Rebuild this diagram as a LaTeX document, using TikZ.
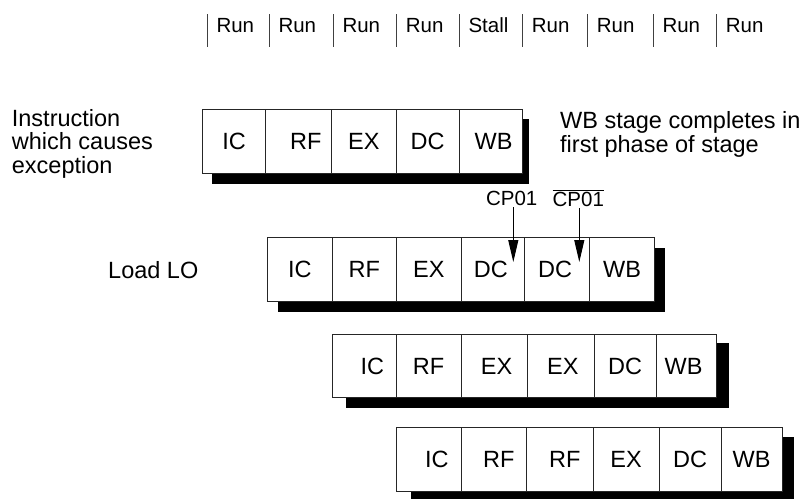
\documentclass[tikz,border=0pt]{standalone}
\usepackage{fontspec}
\setmainfont{Liberation Sans}
\usetikzlibrary{arrows.meta}
\tikzset{
  cell/.style={draw=black!85, fill=white, line width=0.8pt, inner sep=0pt, font=\fontsize{23.5}{26}\selectfont},
  shadowbox/.style={fill=black},
  bar/.style={draw=black!75, line width=1pt},
  toplab/.style={anchor=base west, inner sep=0pt, font=\fontsize{20.5}{24}\selectfont},
  txt/.style={inner sep=0pt, align=left, font=\fontsize{23.5}{23.5}\selectfont},
  cplab/.style={inner sep=2pt, font=\fontsize{20.5}{22}\selectfont},
  sig/.style={draw=black, line width=1pt, -{Triangle[length=22pt,width=10pt]}}
}
\begin{document}
\begin{tikzpicture}[x=1pt,y=-1pt]
\useasboundingbox (0,0) rectangle (810,498);
\clip (0,0) rectangle (810,498);
\fill[white] (0,0) rectangle (810,498);

% top run/stall labels
\foreach \x/\t [count=\i] in {207.3/Run,269.3/Run,333.3/Run,396.7/Run,459.3/Stall,522.7/Run,587.7/Run,653.3/Run,716.7/Run}{
  \draw[bar] (\x,14) -- (\x,47);
  \node[toplab] (top\i) at (\x+9,32) {\t};
}

% left texts
\node[txt, anchor=north west] (instr) at (11.7,109) {Instruction\\which causes\\exception};
\node[txt, anchor=north west] (wbnote) at (560,111.5) {WB stage completes in\\first phase of stage};
\node[txt, anchor=base west] (load) at (108,278) {Load LO};

% row 1
\fill[shadowbox] (212.3,119) rectangle (529.3,184.3);
\node[cell, minimum width=63.2pt, minimum height=64.3pt] (r1c1) at (234.1,141.15) {IC};
\node[cell, minimum width=66pt, minimum height=64.3pt] (r1c2) at (298.7,141.15) {\hspace*{14pt}RF};
\node[cell, minimum width=64.3pt, minimum height=64.3pt] (r1c3) at (363.85,141.15) {EX};
\node[cell, minimum width=63.3pt, minimum height=64.3pt] (r1c4) at (427.65,141.15) {DC};
\node[cell, minimum width=63.4pt, minimum height=64.3pt] (r1c5) at (491,141.15) {\hspace*{5pt}WB};

% row 2
\fill[shadowbox] (278.3,247.5) rectangle (665,312.3);
\node[cell, minimum width=65pt, minimum height=64.4pt] (r2c1) at (299.8,269.5) {IC};
\node[cell, minimum width=64pt, minimum height=64.4pt] (r2c2) at (364.3,269.5) {RF};
\node[cell, minimum width=65pt, minimum height=64.4pt] (r2c3) at (428.8,269.5) {EX};
\node[cell, minimum width=63pt, minimum height=64.4pt] (r2c4) at (492.8,269.5) {DC\hspace*{4pt}};
\node[cell, minimum width=65.4pt, minimum height=64.4pt] (r2c5) at (557,269.5) {DC\hspace*{4pt}};
\node[cell, minimum width=64.6pt, minimum height=64.4pt] (r2c6) at (622,269.5) {WB};

% row 3
\fill[shadowbox] (346,343.3) rectangle (729.3,408.3);
\node[cell, minimum width=63.3pt, minimum height=63.4pt] (r3c1) at (364.35,366) {\hspace*{16pt}IC};
\node[cell, minimum width=65.3pt, minimum height=63.4pt] (r3c2) at (428.65,366) {RF};
\node[cell, minimum width=66.4pt, minimum height=63.4pt] (r3c3) at (494.5,366) {\hspace*{4pt}EX};
\node[cell, minimum width=66.3pt, minimum height=63.4pt] (r3c4) at (560.85,366) {\hspace*{4pt}EX};
\node[cell, minimum width=62.3pt, minimum height=63.4pt] (r3c5) at (625.15,366) {DC};
\node[cell, minimum width=60.4pt, minimum height=63.4pt] (r3c6) at (686.5,366) {WB\hspace*{6pt}};

% row 4
\fill[shadowbox] (410.7,437.3) rectangle (794.3,503);
\node[cell, minimum width=64.3pt, minimum height=64pt] (r4c1) at (428.85,459.7) {\hspace*{16pt}IC};
\node[cell, minimum width=65.7pt, minimum height=64pt] (r4c2) at (493.85,459.7) {\hspace*{10pt}RF};
\node[cell, minimum width=66.3pt, minimum height=64pt] (r4c3) at (559.85,459.7) {\hspace*{10pt}RF};
\node[cell, minimum width=66pt, minimum height=64pt] (r4c4) at (626,459.7) {EX};
\node[cell, minimum width=62pt, minimum height=64pt] (r4c5) at (690,459.7) {DC};
\node[cell, minimum width=61.3pt, minimum height=64pt] (r4c6) at (751.65,459.7) {WB};

% CP01 signals
\node[cplab] (cp1) at (511.7,198) {CP01};
\node[cplab] (cp2) at (578.3,198) {$\overline{\mbox{CP01}}$};
\coordinate (tip1) at (513.3,262);
\coordinate (tip2) at (579.3,262);
\draw[sig] (cp1.south -| tip1) -- (tip1);
\draw[sig] (cp2.south -| tip2) -- (tip2);
\end{tikzpicture}
\end{document}
